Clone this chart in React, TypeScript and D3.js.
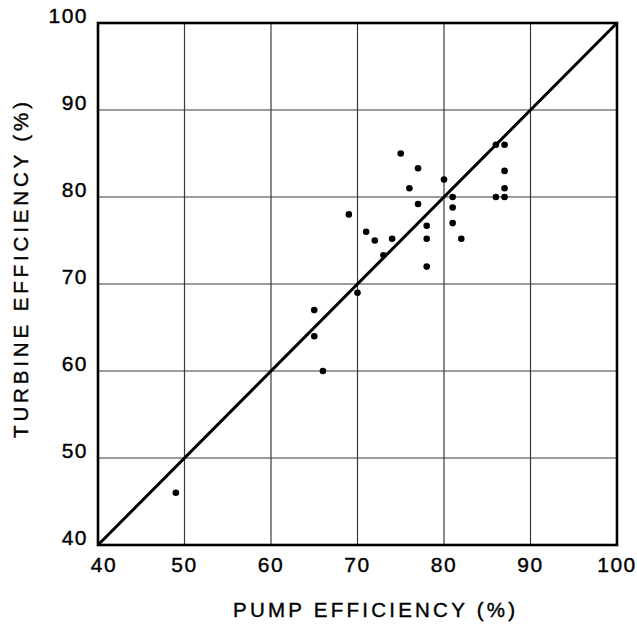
import React from "react";
import * as d3 from "d3";

const pumpEff = [49, 65, 65, 66, 70, 69, 71, 72, 74, 73, 75, 76, 77, 77, 78, 78, 78, 80, 81, 81, 81, 82, 86, 87, 87, 87, 86, 87];
const turbineEff = [46, 67, 64, 60, 69, 78, 76, 75, 75.2, 73.3, 85, 81, 83.3, 79.2, 76.7, 75.2, 72, 82, 80, 78.8, 77, 75.2, 86, 86, 83, 81, 80, 80];
const xTicks = [40, 50, 60, 70, 80, 90, 100];
const yTicks = [40, 50, 60, 70, 80, 90, 100];
const xTitle = "PUMP  EFFICIENCY  (%)";
const yTitle = "TURBINE  EFFICIENCY  (%)";

export default function App() {
  const W = 637, H = 624;
  const left = 98, right = 617, top = 23, bottom = 545;
  const x = d3.scaleLinear().domain([40, 100]).range([left, right]);
  const y = d3.scaleLinear().domain([40, 100]).range([bottom, top]);
  const font = "'Liberation Sans', Arial, Helvetica, sans-serif";
  const line = d3.line<number>().x((d) => x(d)).y((d) => y(d));
  return (
    <svg width={W} height={H} style={{ position: "absolute", left: 0, top: 0, background: "#fff" }}>
      <rect width={W} height={H} fill="#fff" />
      {xTicks.slice(1, -1).map((t) => (
        <line key={"gx" + t} x1={x(t)} x2={x(t)} y1={top} y2={bottom} stroke="#3a3a3a" strokeWidth={1.2} />
      ))}
      {yTicks.slice(1, -1).map((t) => (
        <line key={"gy" + t} x1={left} x2={right} y1={y(t)} y2={y(t)} stroke="#3a3a3a" strokeWidth={1.2} />
      ))}
      <rect x={left} y={top} width={right - left} height={bottom - top} fill="none" stroke="#000" strokeWidth={2.6} />
      <path d={line([40, 100]) || ""} stroke="#000" strokeWidth={3} fill="none" />
      {pumpEff.map((p, i) => (
        <circle key={i} cx={x(p)} cy={y(turbineEff[i])} r={3.3} fill="#000" />
      ))}
      {xTicks.map((t, i) => (
        <text key={"tx" + t} x={x(t) + (i === 0 ? 6 : 0)} y={572} textAnchor="middle" fontFamily={font} fontSize={21} letterSpacing={1.5} fill="#000" stroke="#000" strokeWidth={0.4}>
          {t}
        </text>
      ))}
      {yTicks.map((t) => (
        <text key={"ty" + t} x={88} y={y(t)} textAnchor="end" fontFamily={font} fontSize={21} letterSpacing={1.5} fill="#000" stroke="#000" strokeWidth={0.4}>
          {t}
        </text>
      ))}
      <text x={374} y={617} textAnchor="middle" fontFamily={font} fontSize={20.5} textLength={282} lengthAdjust="spacing" fill="#000" stroke="#000" strokeWidth={0.4}>
        {xTitle}
      </text>
      <text transform={`translate(28,270) rotate(-90)`} textAnchor="middle" fontFamily={font} fontSize={20.5} textLength={336} lengthAdjust="spacing" fill="#000" stroke="#000" strokeWidth={0.4}>
        {yTitle}
      </text>
    </svg>
  );
}
